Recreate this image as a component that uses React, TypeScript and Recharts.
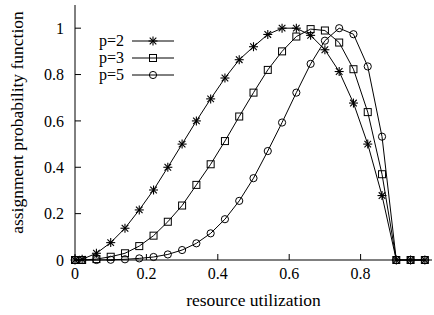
import { LineChart, Line, XAxis, YAxis, Legend } from 'recharts'

const xs = [0, 0.02, 0.06, 0.1, 0.14, 0.18, 0.22, 0.26, 0.3, 0.34, 0.38, 0.42, 0.46, 0.5, 0.54, 0.58, 0.62, 0.66, 0.7, 0.74, 0.78, 0.82, 0.86, 0.9, 0.94, 0.98]
const p2 = [0, 0.003, 0.029, 0.075, 0.137, 0.216, 0.302, 0.4, 0.5, 0.6, 0.695, 0.785, 0.864, 0.92, 0.973, 1.0, 1.0, 0.969, 0.907, 0.813, 0.677, 0.5, 0.278, 0, 0, 0]
const p3 = [0, 0, 0.004, 0.014, 0.029, 0.06, 0.105, 0.165, 0.235, 0.324, 0.413, 0.513, 0.619, 0.722, 0.82, 0.9, 0.964, 0.996, 0.99, 0.938, 0.823, 0.638, 0.37, 0, 0, 0]
const p5 = [0, 0, 0, 0.001, 0.003, 0.007, 0.013, 0.024, 0.043, 0.072, 0.115, 0.176, 0.255, 0.353, 0.47, 0.593, 0.722, 0.846, 0.946, 1.0, 0.974, 0.835, 0.532, 0, 0, 0]

const xTicks = [0, 0.2, 0.4, 0.6, 0.8]
const yTicks = [0, 0.2, 0.4, 0.6, 0.8, 1]

type Shape = 'star' | 'square' | 'circle'

const series: { key: string; name: string; shape: Shape }[] = [
  { key: 'p2', name: 'p=2', shape: 'star' },
  { key: 'p3', name: 'p=3', shape: 'square' },
  { key: 'p5', name: 'p=5', shape: 'circle' },
]

const data = xs.map((x, i) => ({ x, p2: p2[i], p3: p3[i], p5: p5[i] }))

const FONT = '"Liberation Serif", "Times New Roman", Times, serif'
const tickStyle = { fontSize: 16, fill: '#000', fontFamily: FONT }

function Marker({ cx, cy, shape }: { cx: number; cy: number; shape: Shape }) {
  if (shape === 'star') {
    const s = 4.5
    const d = 3.3
    return (
      <g stroke="#000" strokeWidth={1.1}>
        <line x1={cx - s} y1={cy} x2={cx + s} y2={cy} />
        <line x1={cx} y1={cy - s} x2={cx} y2={cy + s} />
        <line x1={cx - d} y1={cy - d} x2={cx + d} y2={cy + d} />
        <line x1={cx - d} y1={cy + d} x2={cx + d} y2={cy - d} />
      </g>
    )
  }
  if (shape === 'square') {
    return <rect x={cx - 3.5} y={cy - 3.5} width={7} height={7} fill="none" stroke="#000" strokeWidth={1} />
  }
  return <circle cx={cx} cy={cy} r={3.6} fill="none" stroke="#000" strokeWidth={1} />
}

function renderDot(shape: Shape) {
  return (props: any) => {
    if (props.cx == null || props.cy == null) return <g key={`${shape}-${props.index}`} />
    return (
      <g key={`${shape}-${props.index}`}>
        <Marker cx={props.cx} cy={props.cy} shape={shape} />
      </g>
    )
  }
}

function LegendBox() {
  return (
    <div style={{ fontFamily: FONT, fontSize: 16, color: '#000' }}>
      {series.map((s) => (
        <div key={s.key} style={{ display: 'flex', alignItems: 'center', height: 16.7 }}>
          <span style={{ width: 33, lineHeight: '16px' }}>{s.name}</span>
          <svg width={42} height={14} style={{ display: 'block' }}>
            <line x1={0} y1={7} x2={42} y2={7} stroke="#000" strokeWidth={1} />
            <Marker cx={21} cy={7} shape={s.shape} />
          </svg>
        </div>
      ))}
    </div>
  )
}

export default function App() {
  return (
    <div style={{ position: 'absolute', left: 0, top: 0, background: '#fff' }}>
      <LineChart width={434} height={315} data={data} margin={{ top: 5, right: 2, bottom: 0, left: 0 }}>
        <XAxis
          dataKey="x"
          type="number"
          domain={[0, 1]}
          ticks={xTicks}
          height={55}
          tickSize={-6}
          tickMargin={14}
          tick={tickStyle}
          axisLine={{ stroke: '#000' }}
          tickLine={{ stroke: '#000' }}
          label={{ value: 'resource utilization', position: 'insideBottom', offset: 9, fill: '#000', fontSize: 17.5, fontFamily: FONT }}
        />
        <XAxis
          xAxisId="top"
          orientation="top"
          dataKey="x"
          type="number"
          domain={[0, 1]}
          ticks={xTicks}
          height={0}
          tickSize={-6}
          tickFormatter={() => ''}
          axisLine={{ stroke: '#000' }}
          tickLine={{ stroke: '#000' }}
        />
        <YAxis
          type="number"
          domain={[0, 1.1]}
          ticks={yTicks}
          width={75}
          tickSize={-6}
          tickMargin={17}
          tick={tickStyle}
          axisLine={{ stroke: '#000' }}
          tickLine={{ stroke: '#000' }}
          label={{
            value: 'assignment probability function',
            angle: -90,
            position: 'insideLeft',
            offset: 17,
            dy: -10,
            fill: '#000',
            fontSize: 17.5,
            fontFamily: FONT,
            style: { textAnchor: 'middle' },
          }}
        />
        <YAxis
          yAxisId="right"
          orientation="right"
          type="number"
          domain={[0, 1.1]}
          ticks={yTicks}
          width={0}
          tickSize={-6}
          tickFormatter={() => ''}
          axisLine={{ stroke: '#000' }}
          tickLine={{ stroke: '#000' }}
        />
        <Legend
          layout="vertical"
          align="center"
          verticalAlign="middle"
          content={() => <LegendBox />}
          wrapperStyle={{ position: 'absolute', left: 99, top: 33, width: 'auto' }}
        />
        {series.map((s) => (
          <Line
            key={s.key}
            dataKey={s.key}
            name={s.name}
            type="linear"
            stroke="#000"
            strokeWidth={1}
            dot={renderDot(s.shape)}
            activeDot={false}
            isAnimationActive={false}
          />
        ))}
      </LineChart>
    </div>
  )
}
